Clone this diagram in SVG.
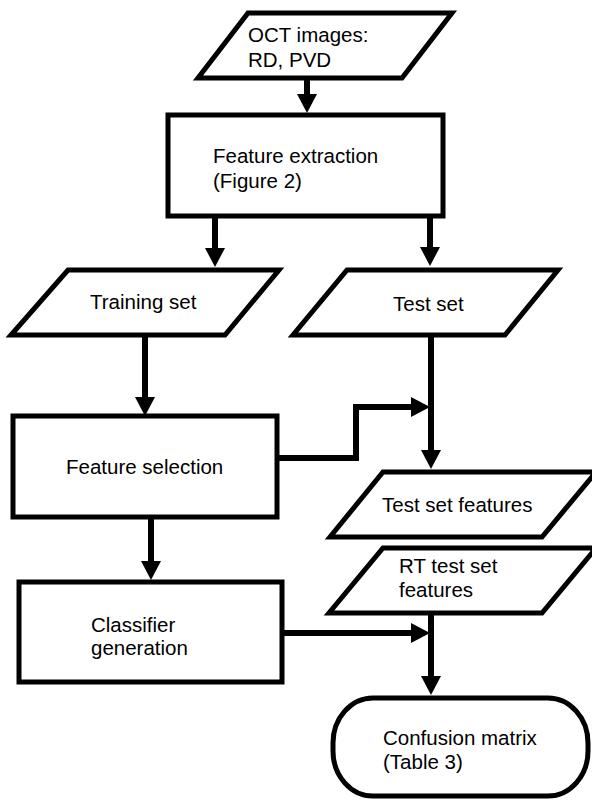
<svg xmlns="http://www.w3.org/2000/svg" width="592" height="803" viewBox="0 0 592 803">
  <style>
    .shape { fill: #ffffff; stroke: #000000; stroke-width: 5; stroke-linejoin: miter; }
    .label { font-family: "Liberation Sans", Arial, sans-serif; font-size: 20.5px; fill: #000000; }
    .edge { fill: none; stroke: #000000; stroke-width: 6; stroke-linejoin: miter; marker-end: url(#head); }
  </style>
  <defs>
    <marker id="head" markerUnits="userSpaceOnUse" markerWidth="20" markerHeight="20" refX="0" refY="10" orient="auto">
      <path d="M0,0 L19,10 L0,20 Z" fill="#000000"/>
    </marker>
  </defs>
  <rect width="592" height="803" fill="#ffffff"/>

  <!-- flow connectors (each path ends at the base of its arrowhead) -->
  <g id="connectors">
    <path class="edge" d="M307,78 V94"/>
    <path class="edge" d="M215,216 V248"/>
    <path class="edge" d="M430,216 V247"/>
    <path class="edge" d="M145,335 V397"/>
    <path class="edge" d="M431,335 V450"/>
    <path class="edge" d="M277,458 H356 V407 H411"/>
    <path class="edge" d="M151,517 V561"/>
    <path class="edge" d="M282,633 H411"/>
    <path class="edge" d="M431,613 V676"/>
  </g>

  <g id="oct-images">
    <polygon class="shape" points="248,13 452,13 402,78 198,78"/>
    <text class="label" x="248" y="42">OCT images:</text>
    <text class="label" x="248" y="67">RD, PVD</text>
  </g>

  <g id="feature-extraction">
    <rect class="shape" x="168" y="115" width="275" height="101"/>
    <text class="label" x="213" y="163">Feature extraction</text>
    <text class="label" x="213" y="188">(Figure 2)</text>
  </g>

  <g id="training-set">
    <polygon class="shape" points="68,270 279,270 225,335 11,335"/>
    <text class="label" x="90" y="309">Training set</text>
  </g>

  <g id="test-set">
    <polygon class="shape" points="347,270 558,270 505,335 293,335"/>
    <text class="label" x="393" y="311">Test set</text>
  </g>

  <g id="feature-selection">
    <rect class="shape" x="13" y="416" width="264" height="101"/>
    <text class="label" x="66" y="474">Feature selection</text>
  </g>

  <g id="test-set-features">
    <polygon class="shape" points="383,472 596,472 542,537 330,537"/>
    <text class="label" x="382" y="512">Test set features</text>
  </g>

  <g id="rt-test-set-features">
    <polygon class="shape" points="383,548 596,548 542,613 329,613"/>
    <text class="label" x="399" y="573">RT test set</text>
    <text class="label" x="399" y="597">features</text>
  </g>

  <g id="classifier-generation">
    <rect class="shape" x="19" y="582" width="263" height="100"/>
    <text class="label" x="91" y="632">Classifier</text>
    <text class="label" x="91" y="655">generation</text>
  </g>

  <g id="confusion-matrix">
    <rect class="shape" x="333" y="698" width="255" height="98" rx="40" ry="45"/>
    <text class="label" x="383" y="745">Confusion matrix</text>
    <text class="label" x="383" y="769">(Table 3)</text>
  </g>
</svg>
